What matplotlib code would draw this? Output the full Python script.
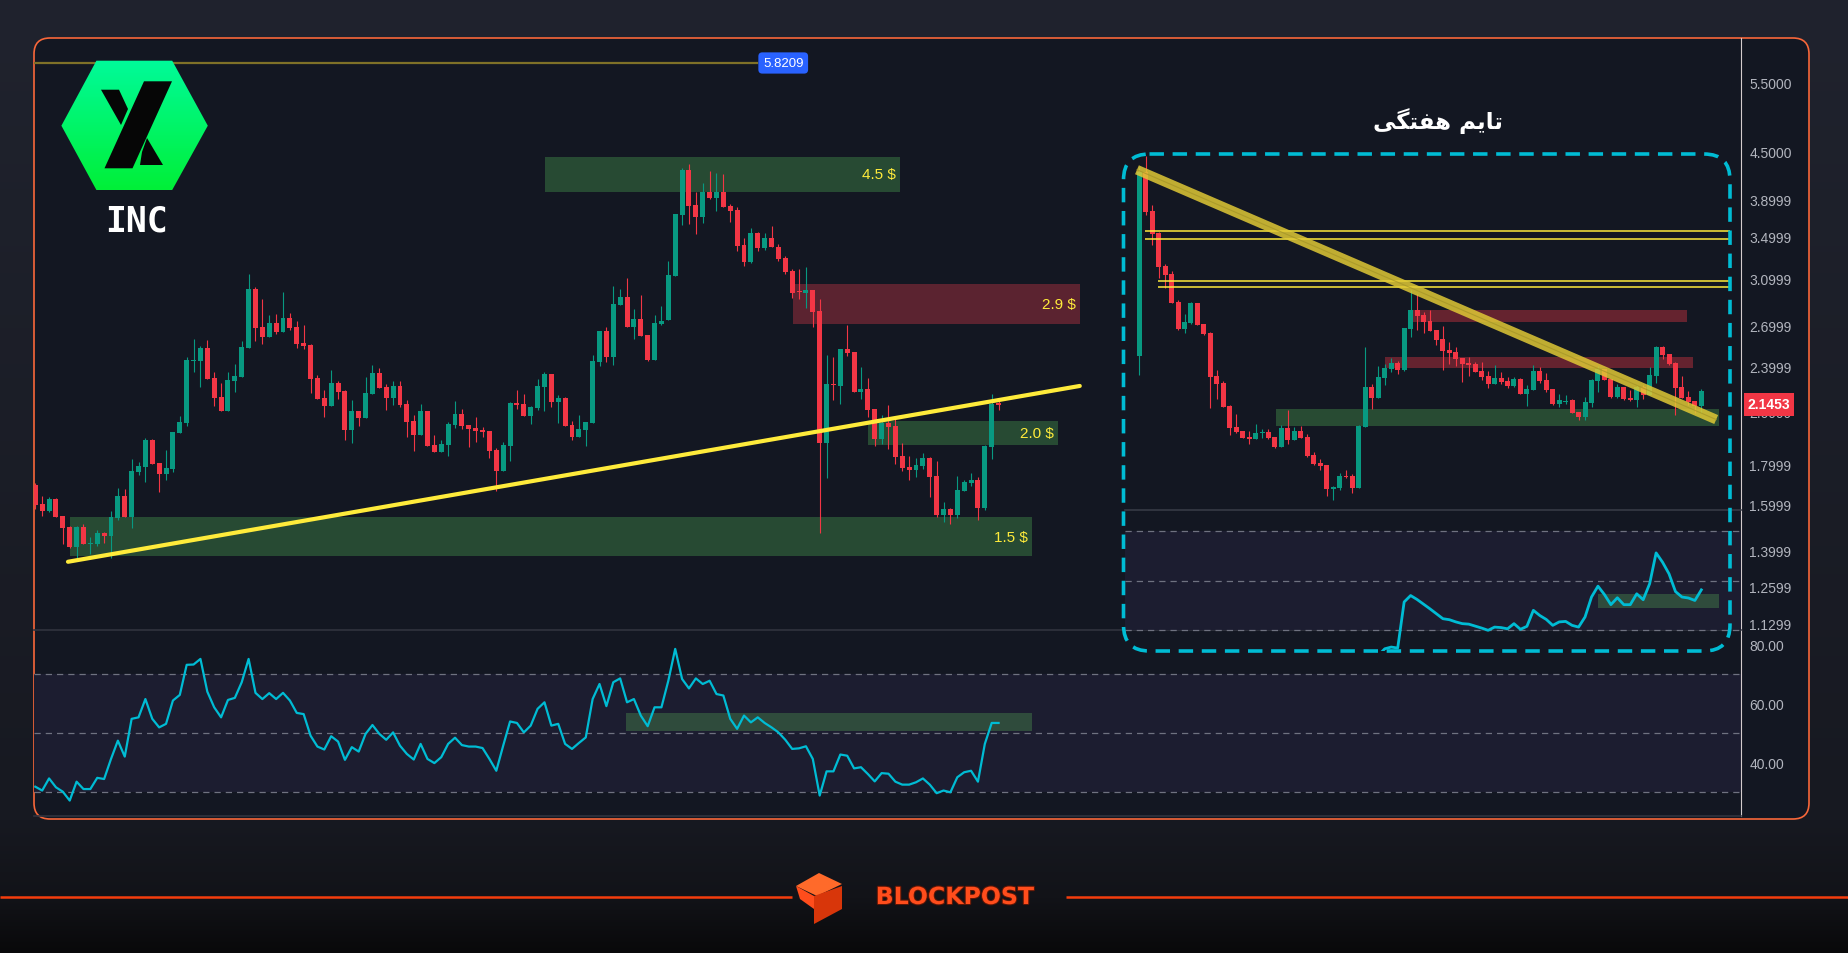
import matplotlib
matplotlib.use("Agg")
import matplotlib.pyplot as plt
import matplotlib.patheffects as pe
import numpy as np
from matplotlib.patches import FancyBboxPatch, Polygon
from matplotlib.ticker import NullLocator

plt.rcParams['font.family'] = ['Liberation Sans', 'DejaVu Sans']

W, H = 1848, 954

# ---------------- daily candles (INC/USDT) ----------------
d_open = [1.695, 1.603, 1.571, 1.627, 1.548, 1.499, 1.413, 1.499, 1.426, 1.426,
          1.473, 1.460, 1.539, 1.641, 1.543, 1.761, 1.786, 1.933, 1.807, 1.750,
          1.776, 1.973, 2.031, 2.435, 2.435, 2.529, 2.317, 2.192, 2.104, 2.297,
          2.324, 2.529, 3.006, 2.690, 2.612, 2.721, 2.651, 2.761, 2.690, 2.566,
          2.551, 2.317, 2.185, 2.135, 2.284, 2.231, 1.990, 2.104, 2.061, 2.211,
          2.351, 2.257, 2.185, 2.264, 2.148, 2.043, 1.962, 2.104, 1.905, 1.866,
          1.905, 2.020, 2.085, 2.020, 2.002, 1.990, 1.985, 1.877, 1.766, 1.900,
          2.154, 2.148, 2.073, 2.122, 2.257, 2.344, 2.160, 2.185, 2.020, 1.950,
          1.990, 2.031, 2.428, 2.659, 2.463, 2.869, 2.936, 2.690, 2.753, 2.628,
          2.442, 2.713, 2.745, 3.122, 3.732, 4.257, 3.842, 3.711, 3.992, 3.922,
          3.992, 3.831, 3.787, 3.419, 3.252, 3.541, 3.389, 3.489, 3.399, 3.290,
          3.168, 2.988, 2.971, 2.997, 2.819, 1.916, 2.277, 2.264, 2.522, 2.500,
          2.224, 2.244, 2.116, 1.939, 2.031, 2.014, 1.844, 1.786, 1.771, 1.792,
          1.834, 1.740, 1.553, 1.580, 1.553, 1.665, 1.705, 1.720, 1.585, 1.894,
          2.154]
d_high = [1.705, 1.641, 1.636, 1.632, 1.548, 1.503, 1.503, 1.512, 1.456, 1.486,
          1.477, 1.571, 1.680, 1.675, 1.828, 1.812, 1.945, 1.939, 1.807, 1.877,
          1.979, 2.073, 2.463, 2.597, 2.544, 2.589, 2.358, 2.284, 2.358, 2.414,
          2.582, 3.140, 3.023, 2.919, 2.786, 2.794, 2.980, 2.802, 2.737, 2.705,
          2.559, 2.337, 2.237, 2.372, 2.297, 2.237, 2.173, 2.104, 2.324, 2.407,
          2.386, 2.277, 2.297, 2.297, 2.173, 2.079, 2.148, 2.104, 1.962, 1.933,
          2.037, 2.166, 2.116, 2.020, 2.067, 2.008, 1.985, 1.888, 1.922, 2.160,
          2.237, 2.211, 2.135, 2.310, 2.358, 2.344, 2.205, 2.192, 2.043, 2.079,
          2.037, 2.478, 2.659, 2.690, 3.032, 3.006, 3.104, 2.835, 2.953, 2.628,
          2.786, 2.860, 3.262, 3.743, 4.282, 4.333, 3.992, 4.098, 4.244, 4.219,
          4.207, 3.854, 3.820, 3.489, 3.593, 3.551, 3.541, 3.614, 3.429, 3.310,
          3.187, 3.187, 3.205, 2.997, 2.919, 2.478, 2.463, 2.522, 2.705, 2.500,
          2.393, 2.317, 2.116, 2.079, 2.141, 2.055, 1.916, 1.844, 1.834, 1.861,
          1.839, 1.818, 1.613, 1.585, 1.740, 1.720, 1.755, 1.735, 1.905, 2.211,
          2.173]
d_low = [1.580, 1.548, 1.566, 1.543, 1.426, 1.409, 1.369, 1.426, 1.385, 1.418,
         1.430, 1.369, 1.530, 1.543, 1.494, 1.745, 1.710, 1.802, 1.661, 1.720,
         1.761, 1.973, 2.014, 2.358, 2.257, 2.310, 2.135, 2.104, 2.104, 2.224,
         2.324, 2.529, 2.582, 2.559, 2.612, 2.636, 2.651, 2.666, 2.529, 2.522,
         2.218, 2.179, 2.067, 2.135, 2.179, 1.933, 1.916, 2.014, 2.061, 2.211,
         2.251, 2.110, 2.141, 2.129, 1.950, 1.872, 1.962, 1.900, 1.866, 1.866,
         1.844, 2.002, 1.996, 1.894, 1.922, 1.950, 1.834, 1.665, 1.766, 1.818,
         2.116, 2.073, 2.025, 2.110, 2.104, 2.129, 2.031, 2.014, 1.933, 1.950,
         1.900, 2.031, 2.400, 2.428, 2.407, 2.869, 2.690, 2.597, 2.620, 2.435,
         2.442, 2.705, 2.745, 3.122, 3.625, 3.635, 3.530, 3.646, 3.911, 3.776,
         3.820, 3.657, 3.359, 3.215, 3.243, 3.359, 3.369, 3.399, 3.262, 3.141,
         2.928, 2.919, 2.843, 2.690, 1.473, 1.730, 2.173, 2.148, 2.471, 2.224,
         2.179, 2.067, 1.900, 1.911, 1.883, 1.802, 1.766, 1.720, 1.735, 1.776,
         1.636, 1.543, 1.521, 1.512, 1.539, 1.665, 1.690, 1.530, 1.576, 1.828,
         2.110]
d_close = [1.599, 1.571, 1.627, 1.543, 1.494, 1.413, 1.499, 1.426, 1.430, 1.473,
           1.460, 1.543, 1.641, 1.543, 1.766, 1.792, 1.933, 1.802, 1.750, 1.781,
           1.979, 2.037, 2.442, 2.442, 2.529, 2.310, 2.185, 2.104, 2.303, 2.331,
           2.537, 3.006, 2.682, 2.612, 2.721, 2.651, 2.761, 2.682, 2.559, 2.544,
           2.310, 2.179, 2.135, 2.284, 2.224, 1.990, 2.104, 2.061, 2.218, 2.351,
           2.251, 2.185, 2.264, 2.141, 2.037, 1.962, 2.104, 1.900, 1.866, 1.911,
           2.025, 2.085, 2.014, 1.996, 1.985, 1.979, 1.872, 1.766, 1.905, 2.154,
           2.141, 2.073, 2.129, 2.264, 2.344, 2.160, 2.185, 2.014, 1.950, 1.996,
           2.037, 2.435, 2.659, 2.463, 2.877, 2.936, 2.690, 2.753, 2.620, 2.442,
           2.721, 2.737, 3.131, 3.743, 4.257, 3.831, 3.711, 3.992, 3.922, 3.992,
           3.820, 3.776, 3.409, 3.252, 3.541, 3.389, 3.489, 3.399, 3.281, 3.159,
           2.968, 2.980, 2.997, 2.810, 1.916, 2.277, 2.271, 2.522, 2.493, 2.224,
           2.244, 2.110, 1.939, 2.031, 2.008, 1.839, 1.781, 1.771, 1.797, 1.834,
           1.735, 1.553, 1.580, 1.553, 1.670, 1.710, 1.720, 1.585, 1.900, 2.148,
           2.141]
d_rsi = [31.9, 30.6, 34.7, 31.7, 30.2, 27.2, 33.6, 31.1, 31.1, 34.9,
         34.5, 41.3, 47.5, 42.1, 54.9, 55.4, 61.6, 54.9, 52.0, 53.2,
         61.1, 63.0, 73.2, 73.3, 75.2, 64.1, 58.8, 55.4, 61.3, 62.0,
         67.3, 75.2, 63.7, 61.6, 63.6, 61.6, 63.7, 61.1, 56.9, 56.5,
         49.2, 45.5, 44.5, 49.0, 47.2, 41.0, 45.3, 43.8, 49.8, 52.8,
         49.8, 47.8, 50.3, 45.8, 43.0, 41.1, 46.4, 41.3, 39.9, 41.9,
         46.4, 48.5, 46.0, 45.5, 45.5, 45.0, 41.3, 37.3, 45.8, 54.0,
         53.5, 50.3, 52.6, 58.3, 60.5, 52.6, 53.2, 46.4, 44.7, 46.7,
         48.6, 61.6, 66.7, 59.2, 67.3, 68.6, 60.5, 61.6, 56.0, 52.4,
         58.8, 58.8, 67.8, 78.6, 68.4, 65.2, 68.6, 66.7, 67.8, 63.3,
         62.8, 54.9, 51.5, 56.0, 53.7, 55.4, 53.5, 52.0, 50.3, 47.8,
         44.7, 44.9, 45.6, 41.3, 28.9, 37.1, 37.1, 42.8, 42.4, 38.1,
         38.5, 36.2, 33.7, 36.5, 36.3, 33.6, 32.6, 32.6, 33.4, 34.7,
         32.6, 29.7, 30.6, 30.0, 35.1, 36.8, 37.3, 33.6, 46.4, 53.5,
         53.5]

# ---------------- weekly candles (inset) ----------------
w_open = [2.473, 4.236, 3.776, 3.544, 3.218, 3.143, 2.894, 2.674, 2.721, 2.885,
          2.713, 2.643, 2.331, 2.284, 2.135, 2.008, 1.985, 1.950, 1.939, 1.973,
          1.979, 1.950, 1.894, 2.002, 1.933, 1.985, 1.950, 1.850, 1.807, 1.797,
          1.675, 1.680, 1.740, 1.740, 1.680, 2.008, 2.257, 2.185, 2.317, 2.379,
          2.421, 2.372, 2.674, 2.827, 2.786, 2.737, 2.666, 2.597, 2.515, 2.500,
          2.456, 2.421, 2.414, 2.365, 2.331, 2.277, 2.317, 2.297, 2.264, 2.310,
          2.211, 2.237, 2.365, 2.303, 2.244, 2.148, 2.163, 2.173, 2.098, 2.067,
          2.154, 2.297, 2.379, 2.310, 2.192, 2.257, 2.185, 2.173, 2.257, 2.205,
          2.331, 2.537, 2.485, 2.421, 2.257, 2.192, 2.166, 2.135]
w_high = [4.296, 4.439, 3.842, 3.551, 3.237, 3.171, 2.910, 2.794, 2.894, 2.885,
          2.713, 2.651, 2.372, 2.297, 2.141, 2.085, 1.985, 1.985, 2.025, 1.996,
          1.996, 1.950, 2.020, 2.110, 2.008, 2.014, 1.968, 1.866, 1.828, 1.797,
          1.690, 1.755, 1.771, 1.750, 2.020, 2.537, 2.277, 2.400, 2.414, 2.456,
          2.435, 2.682, 2.997, 2.962, 2.810, 2.827, 2.666, 2.697, 2.574, 2.537,
          2.456, 2.463, 2.428, 2.428, 2.365, 2.407, 2.358, 2.324, 2.324, 2.317,
          2.271, 2.407, 2.393, 2.351, 2.244, 2.211, 2.205, 2.179, 2.098, 2.192,
          2.310, 2.400, 2.379, 2.310, 2.277, 2.257, 2.237, 2.271, 2.271, 2.393,
          2.544, 2.544, 2.485, 2.428, 2.331, 2.231, 2.166, 2.244]
w_low = [2.337, 3.735, 3.419, 3.107, 3.017, 2.888, 2.666, 2.643, 2.713, 2.705,
         2.628, 2.122, 2.179, 2.129, 1.962, 1.973, 1.945, 1.911, 1.939, 1.945,
         1.939, 1.888, 1.894, 1.911, 1.933, 1.945, 1.839, 1.797, 1.771, 1.641,
         1.622, 1.670, 1.730, 1.656, 1.680, 2.008, 2.116, 2.185, 2.271, 2.358,
         2.344, 2.365, 2.612, 2.666, 2.643, 2.659, 2.551, 2.372, 2.414, 2.400,
         2.290, 2.331, 2.358, 2.303, 2.251, 2.277, 2.277, 2.251, 2.257, 2.211,
         2.135, 2.237, 2.284, 2.224, 2.141, 2.129, 2.148, 2.091, 2.049, 2.049,
         2.129, 2.224, 2.303, 2.185, 2.185, 2.173, 2.166, 2.129, 2.179, 2.205,
         2.284, 2.449, 2.407, 2.079, 2.185, 2.141, 2.091, 2.091]
w_close = [4.236, 3.768, 3.533, 3.208, 3.134, 2.888, 2.674, 2.729, 2.885, 2.705,
           2.636, 2.324, 2.277, 2.129, 2.002, 1.979, 1.945, 1.939, 1.973, 1.979,
           1.945, 1.894, 2.002, 1.933, 1.985, 1.945, 1.844, 1.802, 1.792, 1.675,
           1.685, 1.740, 1.735, 1.680, 2.014, 2.257, 2.185, 2.324, 2.386, 2.421,
           2.372, 2.682, 2.827, 2.778, 2.729, 2.659, 2.589, 2.507, 2.493, 2.449,
           2.414, 2.407, 2.358, 2.324, 2.277, 2.317, 2.290, 2.264, 2.310, 2.211,
           2.244, 2.365, 2.297, 2.237, 2.148, 2.173, 2.168, 2.091, 2.067, 2.160,
           2.303, 2.379, 2.303, 2.192, 2.257, 2.179, 2.173, 2.257, 2.205, 2.337,
           2.537, 2.478, 2.414, 2.251, 2.185, 2.160, 2.135, 2.231]
w_rsi_start = 36
w_rsi = [17.0, 19.6, 22.3, 23.0, 22.6, 41.3, 43.9, 42.3, 40.4, 38.5,
         36.5, 34.5, 34.1, 33.2, 32.5, 32.3, 31.5, 30.7, 29.8, 31.1,
         30.9, 30.4, 32.5, 30.2, 31.4, 37.9, 35.8, 34.2, 31.8, 33.2,
         33.4, 31.8, 31.1, 35.2, 43.3, 47.7, 44.3, 40.2, 43.0, 40.2,
         40.2, 44.6, 42.2, 48.7, 61.2, 57.4, 52.7, 45.5, 43.3, 42.9,
         41.9, 46.2]

# ---------------- levels / drawings ----------------
price_ticks = [5.5, 4.5, 3.8999, 3.4999, 3.0999, 2.6999, 2.3999, 2.0999,
               1.7999, 1.5999, 1.3999, 1.2599, 1.1299]
rsi_ticks = [80, 60, 40]
rsi_levels = [30, 50, 70]
last_price = 2.1453
top_level = 5.8209

zone_x0 = [74.1, 110.1, 121.0, 5.04]
zone_x1 = [125.7, 151.8, 148.7, 144.9]
zone_lo = [3.995, 2.713, 1.907, 1.378]
zone_hi = [4.422, 3.050, 2.043, 1.542]
zone_kind = ['g', 'r', 'g', 'g']
zone_text = ['4.5 $', '2.9 $', '2.0 $', '1.5 $']

trend_x = [4.75, 151.8]
trend_p = [1.354, 2.264]

rsi_zone_x = [85.9, 144.9]
rsi_zone_y = [50.9, 56.9]

# weekly inset drawings
wz_x0 = [42.37, 38.03, 21.24]
wz_x1 = [84.78, 85.67, 89.71]
wz_lo = [2.731, 2.386, 2.015]
wz_hi = [2.827, 2.463, 2.116]
wz_kind = ['r', 'r', 'g']
w_lines = [3.558, 3.479, 3.075, 3.021]
w_lines_x0 = [0.88, 0.88, 2.94, 2.94]
w_lines_x1 = 91.44
w_trend_x = [-0.36, 89.3]
w_trend_p = [4.260, 2.052]
w_rsi_zone_x = [70.94, 89.71]
w_rsi_zone_y = [38.8, 44.6]

title_fa = "\uFBFD\uFB95\uFE98\uFED4\uFEEB \uFEE2\uFBFE\uFE8E\uFE97"  # تایم هفتگی

GREEN = '#089981'
RED = '#f23645'
ZONE = {'g': '#274a33', 'r': '#5b2330'}
WZONE = {'g': '#284b33', 'r': '#65232f'}
CYAN = '#00bcd4'
TXT = '#b2b5be'


def rect(x0, y0, x1, y1):
    return [x0 / W, 1 - y1 / H, (x1 - x0) / W, (y1 - y0) / H]


def draw_candles(ax, o, h, l, c, width):
    o, h, l, c = map(np.asarray, (o, h, l, c))
    x = np.arange(len(o))
    col = np.where(c >= o, GREEN, RED)
    ax.vlines(x, l, h, colors=col, lw=0.8, zorder=3)
    body = np.maximum(np.abs(c - o), o * 0.003)
    ax.bar(x, body, bottom=np.minimum(o, c), width=width, color=col, lw=0, zorder=4)


fig = plt.figure(figsize=(W / 100, H / 100), dpi=100)

# background + frame
ax_bg = fig.add_axes([0, 0, 1, 1])
ax_bg.set_zorder(-10)
bg_y = [0, 820, 898, 954]
bg_rgb = np.array([(32, 35, 46), (23, 25, 33), (18, 19, 24), (9, 9, 10)]) / 255
grad = np.stack([np.interp(np.arange(H), bg_y, bg_rgb[:, k]) for k in range(3)], axis=-1)
ax_bg.imshow(grad[:, None, :], extent=(0, W, H, 0), aspect='auto')
ax_bg.add_patch(FancyBboxPatch((34, 39), 1775, 781, boxstyle='round,pad=0,rounding_size=16',
                               fc='#131722', ec='#f8673a', lw=1.2))
ax_bg.set_xlim(0, W)
ax_bg.set_ylim(H, 0)
ax_bg.axis('off')

# ---------------- main price pane ----------------
ax_p = fig.add_axes(rect(34, 39, 1741, 631))
ax_p.set_facecolor('none')
ax_p.set_yscale('log')
draw_candles(ax_p, d_open, d_high, d_low, d_close, 0.72)
for x0, x1, lo, hi, k, t in zip(zone_x0, zone_x1, zone_lo, zone_hi, zone_kind, zone_text):
    ax_p.fill_between([x0, x1], lo, hi, color=ZONE[k], lw=0, zorder=1)
    ax_p.text(x1 - 0.6, np.sqrt(lo * hi), t, ha='right', va='center', color='#ffeb3b',
              fontsize=11, zorder=7)
ax_p.plot(trend_x, trend_p, color='#ffeb3b', lw=3, solid_capstyle='round', zorder=6)
ax_p.set_xlim(-0.19, 247.9)
ax_p.set_ylim(1.1091, 6.262)
ax_p.plot([-0.19, 104.9], [top_level, top_level], color='#7f7128', lw=1.6, zorder=2)
ax_p.text(108.7, top_level, f'{top_level:.4f}', ha='center', va='center', color='white',
          fontsize=9.5, zorder=8,
          bbox=dict(boxstyle='round,pad=0.35,rounding_size=0.3', fc='#2962ff', ec='none'))
ax_p.set_yticks(price_ticks, labels=[f'{v:.4f}' for v in price_ticks])
ax_p.yaxis.set_minor_locator(NullLocator())
ax_p.set_xticks([])
ax_p.yaxis.tick_right()
ax_p.tick_params(axis='y', which='both', length=0, pad=6, labelsize=10, labelcolor=TXT)
ax_p.annotate(f'{last_price:.4f}', xy=(1.0164, last_price), xycoords=('axes fraction', 'data'),
              ha='center', va='center', color='white', fontsize=10, fontweight='bold',
              annotation_clip=False, zorder=20,
              bbox=dict(boxstyle='square,pad=0.3', fc=RED, ec='none'))
for s in ax_p.spines.values():
    s.set_visible(False)
ax_p.spines['right'].set_visible(True)
ax_p.spines['right'].set_color('#d4cccd')
ax_p.spines['right'].set_linewidth(0.8)

# ---------------- main RSI pane ----------------
ax_r = fig.add_axes(rect(34, 631, 1741, 817))
ax_r.set_facecolor('none')
ax_r.axhspan(rsi_levels[0], rsi_levels[-1], color='#1c1d30', lw=0, zorder=0)
for lv in rsi_levels:
    ax_r.axhline(lv, color='#6f7280', lw=0.9, ls=(0, (5, 4)), zorder=1)
ax_r.fill_between(rsi_zone_x, rsi_zone_y[0], rsi_zone_y[1], color='#2f4b3c', lw=0, zorder=2)
ax_r.plot(np.arange(len(d_rsi)), d_rsi, color=CYAN, lw=1.6, zorder=5)
ax_r.set_xlim(-0.19, 247.9)
ax_r.set_ylim(21.97, 85.0)
ax_r.set_yticks(rsi_ticks, labels=[f'{v:.2f}' for v in rsi_ticks])
ax_r.set_xticks([])
ax_r.yaxis.tick_right()
ax_r.tick_params(axis='y', length=0, pad=6, labelsize=10, labelcolor=TXT)
for s in ax_r.spines.values():
    s.set_visible(False)
ax_r.spines['right'].set_visible(True)
ax_r.spines['right'].set_color('#d4cccd')
ax_r.spines['right'].set_linewidth(0.8)
for side in ('top', 'bottom'):
    ax_r.spines[side].set_visible(True)
    ax_r.spines[side].set_color('#30333e')
    ax_r.spines[side].set_linewidth(1.2)

# ---------------- weekly inset ----------------
ax_ip = fig.add_axes(rect(1125, 155, 1741, 511))
ax_ip.set_facecolor('none')
ax_ip.set_yscale('log')
for x0, x1, lo, hi, k in zip(wz_x0, wz_x1, wz_lo, wz_hi, wz_kind):
    ax_ip.fill_between([x0, x1], lo, hi, color=WZONE[k], lw=0, zorder=1)
draw_candles(ax_ip, w_open, w_high, w_low, w_close, 0.77)
ax_ip.hlines(w_lines, w_lines_x0, w_lines_x1, color='#ffeb3b', lw=1.1, zorder=5)
ax_ip.plot(w_trend_x, w_trend_p, color='#e0c935', alpha=0.85, lw=7, solid_capstyle='butt', zorder=6)
ax_ip.plot(w_trend_x, w_trend_p, color='#a39427', alpha=0.7, lw=0.8, zorder=7)
ax_ip.set_xlim(-2.21, 93.14)
ax_ip.set_ylim(1.5751, 4.4607)
ax_ip.axis('off')

ax_ir = fig.add_axes(rect(1125, 511, 1741, 652))
ax_ir.set_facecolor('none')
ax_ir.axhspan(rsi_levels[0], rsi_levels[-1], color='#1c1d30', lw=0, zorder=0)
for lv in rsi_levels:
    ax_ir.axhline(lv, color='#6f7280', lw=0.9, ls=(0, (5, 4)), zorder=1)
ax_ir.fill_between(w_rsi_zone_x, w_rsi_zone_y[0], w_rsi_zone_y[1], color='#2f4b3c', lw=0, zorder=2)
ax_ir.plot(np.arange(w_rsi_start, w_rsi_start + len(w_rsi)), w_rsi, color=CYAN, lw=2.0, zorder=5)
ax_ir.set_xlim(-2.21, 93.14)
ax_ir.set_ylim(21.4, 78.6)
ax_ir.set_xticks([])
ax_ir.set_yticks([])
for s in ax_ir.spines.values():
    s.set_visible(False)
ax_ir.spines['top'].set_visible(True)
ax_ir.spines['top'].set_color('#363a45')
ax_ir.spines['top'].set_linewidth(1.2)

# ---------------- overlay: logos, titles, inset border ----------------
ax_ov = fig.add_axes([0, 0, 1, 1])
ax_ov.set_zorder(10)
ax_ov.set_facecolor('none')
ax_ov.set_xlim(0, W)
ax_ov.set_ylim(H, 0)
ax_ov.axis('off')

ax_ov.add_patch(FancyBboxPatch((1123.5, 155), 606.5, 497, boxstyle='round,pad=0,rounding_size=26',
                               fill=False, ec=CYAN, lw=2.6, ls=(0, (4, 2.4))))
ax_ov.text(1438, 121, title_fa, family='DejaVu Sans', fontweight='bold', fontsize=16.5,
           color='white', ha='center', va='center')

# INC logo
hexagon = Polygon([(61.4, 126.7), (96.4, 61.7), (172.2, 61.7), (207.8, 126.7),
                   (172.2, 191), (96.4, 191)], closed=True, fc='none', ec='none')
ax_ov.add_patch(hexagon)
hex_grad = np.stack([np.zeros(50), np.linspace(0.98, 0.94, 50), np.linspace(0.60, 0.22, 50)], axis=-1)
img = ax_ov.imshow(hex_grad[:, None, :], extent=(61, 208, 191, 61), aspect='auto', zorder=1)
img.set_clip_path(hexagon)
ax_ov.set_xlim(0, W)
ax_ov.set_ylim(H, 0)
for pts in ([(144, 82.3), (172, 82.3), (132.5, 169.3), (104.5, 169.3)],
            [(101, 90.7), (119, 90.7), (128, 110), (121, 126)],
            [(147, 139), (163, 166), (140, 166), (142, 153)]):
    ax_ov.add_patch(Polygon(pts, closed=True, fc='#060606', ec='none', zorder=2))
ax_ov.text(136, 222, 'INC', family='DejaVu Sans Mono', fontweight='bold', fontsize=25,
           color='white', ha='center', va='center')

# BLOCKPOST footer
ax_ov.plot([0, 792], [898, 898], color='#f53d0d', lw=1.8, solid_capstyle='butt')
ax_ov.plot([1066, W], [898, 898], color='#f53d0d', lw=1.8, solid_capstyle='butt')
ax_ov.add_patch(Polygon([(796, 887), (819, 874), (842, 885), (817, 897)], closed=True,
                        fc='#ff6a2a', ec='none'))
ax_ov.add_patch(Polygon([(814, 897), (842, 887), (842, 910), (814, 925)], closed=True,
                        fc='#d8360a', ec='none'))
ax_ov.add_patch(Polygon([(796, 887), (814, 897), (814, 910), (800, 900)], closed=True,
                        fc='#ff4d1c', ec='none'))
ax_ov.text(955, 898, 'BLOCKPOST', family='DejaVu Sans', fontweight='heavy', fontsize=17,
           color='#ff4d1c', ha='center', va='center',
           path_effects=[pe.withStroke(linewidth=1.5, foreground='#5c1606')])

fig.savefig('out.png', dpi=100, facecolor='#1a1c24')
